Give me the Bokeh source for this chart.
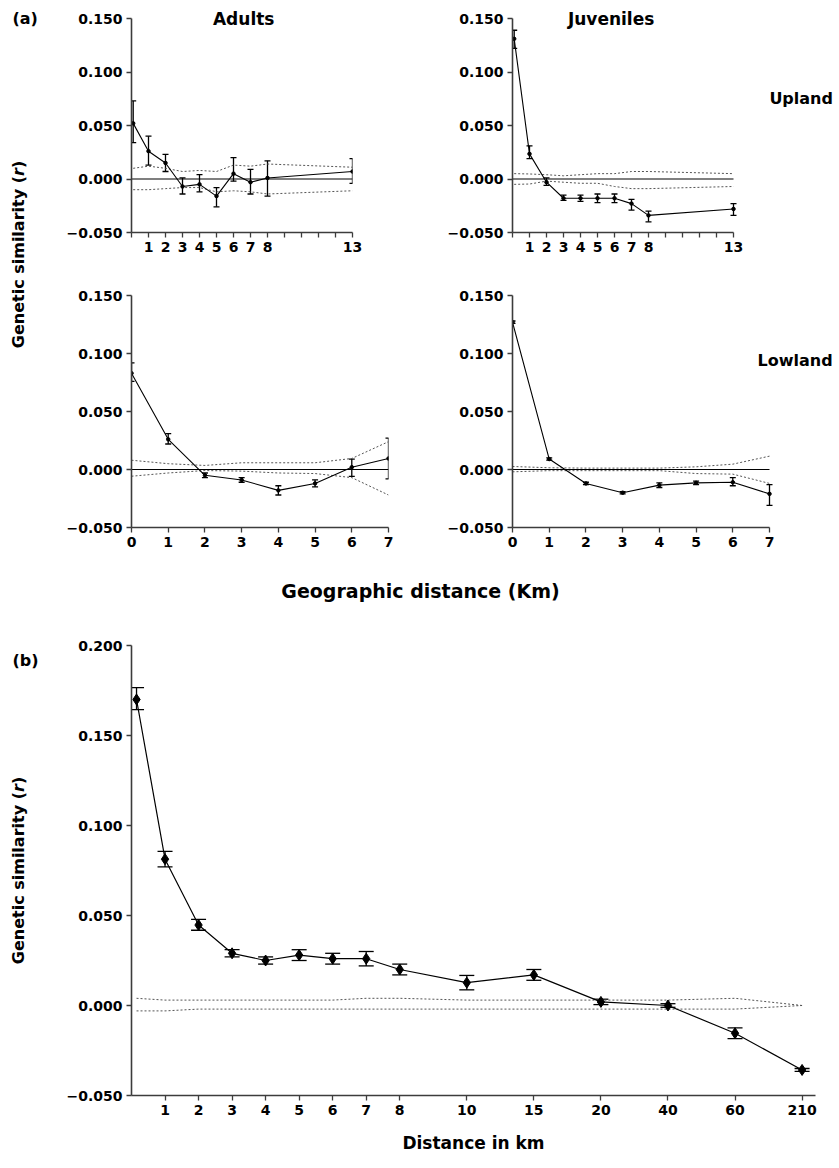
import math
from bokeh.plotting import figure
from bokeh.models import Range1d, FixedTicker, Whisker, TeeHead, ColumnDataSource, Label
from bokeh.core.properties import value
from bokeh.layouts import row, column
from bokeh.embed import file_html
from bokeh.resources import INLINE

# ---------------- data ----------------
# (a) Upland, distance classes (km)
up_x = [0.1, 1, 2, 3, 4, 5, 6, 7, 8, 13]
up_x_ticks = list(range(0, 14))
up_x_labels = ["", "1", "2", "3", "4", "5", "6", "7", "8", "", "", "", "", "13"]

ua_r = [0.052, 0.026, 0.015, -0.007, -0.005, -0.016, 0.005, -0.003, 0.001, 0.007]
ua_lo = [0.034, 0.013, 0.007, -0.014, -0.012, -0.026, -0.002, -0.014, -0.016, -0.004]
ua_hi = [0.073, 0.040, 0.023, 0.001, 0.004, -0.008, 0.020, 0.009, 0.017, 0.019]
ua_env_hi = [0.010, 0.012, 0.010, 0.007, 0.008, 0.007, 0.013, 0.012, 0.014, 0.011]
ua_env_lo = [-0.010, -0.010, -0.009, -0.008, -0.008, -0.012, -0.011, -0.012, -0.014, -0.011]

uj_r = [0.131, 0.0235, -0.003, -0.018, -0.018, -0.018, -0.018, -0.023, -0.034, -0.028]
uj_lo = [0.122, 0.019, -0.006, -0.020, -0.021, -0.022, -0.022, -0.029, -0.040, -0.034]
uj_hi = [0.139, 0.031, 0.001, -0.015, -0.015, -0.014, -0.014, -0.019, -0.030, -0.023]
uj_env_hi = [0.005, 0.0047, 0.004, 0.003, 0.004, 0.005, 0.005, 0.007, 0.007, 0.005]
uj_env_lo = [-0.005, -0.0047, -0.002, -0.003, -0.004, -0.004, -0.007, -0.009, -0.009, -0.007]

# (a) Lowland
lo_x = [0, 1, 2, 3, 4, 5, 6, 7]
lo_x_ticks = list(range(0, 8))
lo_x_labels = [str(v) for v in lo_x_ticks]

la_r = [0.083, 0.026, -0.005, -0.009, -0.018, -0.012, 0.002, 0.0095]
la_lo = [0.076, 0.022, -0.007, -0.011, -0.022, -0.015, -0.006, -0.008]
la_hi = [0.092, 0.031, -0.003, -0.007, -0.014, -0.009, 0.009, 0.027]
la_env_hi = [0.008, 0.005, 0.0035, 0.0058, 0.0058, 0.0058, 0.0095, 0.024]
la_env_lo = [-0.0058, -0.003, -0.0009, -0.0014, -0.003, -0.0035, -0.007, -0.022]

lj_r = [0.127, 0.009, -0.012, -0.020, -0.0135, -0.0115, -0.011, -0.021]
lj_lo = [0.126, 0.008, -0.013, -0.021, -0.0155, -0.013, -0.014, -0.031]
lj_hi = [0.128, 0.010, -0.011, -0.019, -0.0115, -0.010, -0.007, -0.013]
lj_env_hi = [0.0026, 0.0015, 0.0012, 0.0012, 0.0012, 0.0023, 0.0046, 0.0115]
lj_env_lo = [-0.002, -0.001, -0.001, -0.001, -0.001, -0.0035, -0.004, -0.012]

a_y_ticks = [-0.05, 0.0, 0.05, 0.1, 0.15]

# (b) all samples, distance classes in km
b_labels = ["1", "2", "3", "4", "5", "6", "7", "8", "10", "15", "20", "40", "60", "210"]
b_r = [0.170, 0.0813, 0.0447, 0.029, 0.025, 0.028, 0.026, 0.026, 0.020, 0.0127,
       0.017, 0.002, 0.000, -0.0154, -0.0358]
b_lo = [0.1644, 0.077, 0.0418, 0.027, 0.023, 0.025, 0.023, 0.022, 0.017, 0.0087,
        0.014, 0.0005, -0.001, -0.0184, -0.0366]
b_hi = [0.1766, 0.0856, 0.0478, 0.031, 0.027, 0.031, 0.029, 0.030, 0.023, 0.0167,
        0.020, 0.0035, 0.001, -0.0124, -0.0350]
b_env_hi = [0.004, 0.003, 0.003, 0.003, 0.003, 0.003, 0.003, 0.004, 0.004, 0.003,
            0.003, 0.003, 0.003, 0.004, 0.000]
b_env_lo = [-0.003, -0.003, -0.002, -0.002, -0.002, -0.002, -0.002, -0.002, -0.002, -0.002,
            -0.002, -0.002, -0.002, -0.002, 0.000]
b_y_ticks = [-0.05, 0.0, 0.05, 0.1, 0.15, 0.2]

# positions of the classes on panel (b)'s ordinal axis
b_tick_pos = list(range(1, 9)) + [10, 12, 14, 16, 18, 20]
b_x = [0.15] + b_tick_pos

# ---------------- styling helpers ----------------
FONT = "DejaVu Sans"
AX = "#3c3c3c"


def fmt(v):
    s = f"{abs(v):.3f}"
    return ("\u2212" + s) if v < -1e-12 else s


def panel(xr, yr, xb, yb, fw, fh, bl, br, bt, bb, xticks, xlabels, yticks):
    p = figure(title=None, x_range=Range1d(*xr), y_range=Range1d(*yr),
               frame_width=fw, frame_height=fh,
               min_border_left=bl, min_border_right=br,
               min_border_top=bt, min_border_bottom=bb,
               toolbar_location=None, output_backend="svg")
    p.grid.visible = False
    p.outline_line_color = None
    p.xaxis.ticker = FixedTicker(ticks=xticks)
    p.xaxis.major_label_overrides = {t: l for t, l in zip(xticks, xlabels)}
    p.xaxis.bounds = xb
    p.yaxis.ticker = FixedTicker(ticks=yticks)
    p.yaxis.major_label_overrides = {t: fmt(t) for t in yticks}
    p.yaxis.bounds = yb
    for ax in (p.xaxis[0], p.yaxis[0]):
        ax.axis_line_color = AX
        ax.axis_line_width = 1.6
        ax.major_tick_line_color = AX
        ax.major_tick_line_width = 1.3
        ax.major_tick_out = 5
        ax.major_tick_in = 0
        ax.minor_tick_line_color = None
        ax.major_label_text_font = FONT
        ax.major_label_text_font_style = "bold"
        ax.major_label_text_font_size = "14px"
        ax.major_label_text_color = "black"
        ax.major_label_standoff = 4
    return p


def series(p, x, r, lo, hi, ehi, elo, cap, msize, marker, lw=1.1):
    p.line(x, ehi, line_color="#555555", line_dash="2 2", line_width=1)
    p.line(x, elo, line_color="#555555", line_dash="2 2", line_width=1)
    p.line(x, r, line_color="black", line_width=lw)
    src = ColumnDataSource(dict(x=x, lo=lo, hi=hi))
    p.add_layout(Whisker(source=src, base="x", lower="lo", upper="hi",
                         line_color="black", line_width=1.3,
                         lower_head=TeeHead(size=cap, line_color="black", line_width=1.3),
                         upper_head=TeeHead(size=cap, line_color="black", line_width=1.3)))
    p.scatter(x, r, marker=marker, size=msize, color="black")


def zero(p, ticks):
    p.line([ticks[0], ticks[-1]], [0, 0], line_color="black", line_width=1.1)


def lab(p, x, y, text, size="16px", align="center", style="bold", angle=0.0, baseline="middle"):
    p.add_layout(Label(x=x, y=y, text=text, text_font=FONT, text_font_style=style,
                       text_font_size=size, text_align=align, text_baseline=baseline,
                       angle=angle, text_color="black"))


def gtext(p, x, y, text, size="16px", align="left", style="bold", angle=0.0):
    p.text(x=[x], y=[y], text=[text], angle=angle, text_font=value(FONT),
           text_font_style=style, text_font_size=size, text_align=align,
           text_baseline="middle", text_color="black")


def strip(w, h, y_top=0, y_bottom=None):
    # y_top / y_bottom: strip-local pixel rows that the strip's frame spans
    if y_bottom is None:
        y_bottom = h
    p = figure(title=None, x_range=Range1d(0, w), y_range=Range1d(y_bottom, y_top),
               width=w, height=h, min_border=0, x_axis_location=None, y_axis_location=None,
               toolbar_location=None, output_backend="svg")
    p.grid.visible = False
    p.outline_line_color = None
    return p


def ylabel_italic(p, cx, cy, px=16):
    # "Genetic similarity (" + italic "r" + ")" reading bottom-to-top
    w1, w2, w3 = 10.763 * px, 0.493 * px, 0.457 * px
    y0 = cy + (w1 + w2 + w3) / 2
    size = f"{px}px"
    gtext(p, cx, y0, "Genetic similarity (", size=size, angle=math.pi / 2)
    gtext(p, cx, y0 - w1, "r", size=size, style="bold italic", angle=math.pi / 2)
    gtext(p, cx, y0 - w1 - w2, ")", size=size, angle=math.pi / 2)


# ---------------- panels (a) ----------------
A_YB = (-0.05, 0.15)
UP_PPU_Y = 1070.0          # px per unit of r, upper row
UP_FH = 228                # frame reaches a little above 0.150 for the titles
up_y_end = A_YB[0] + UP_FH / UP_PPU_Y
UP_PPU_X = 17.0

ul = panel((0, 13), (A_YB[0], up_y_end), (0, 13), A_YB, 221, UP_FH, 93, 10, 4, 32,
           up_x_ticks, up_x_labels, a_y_ticks)
zero(ul, up_x_ticks)
series(ul, up_x, ua_r, ua_lo, ua_hi, ua_env_hi, ua_env_lo, 6, 3.5, "circle")
lab(ul, 6.6, 0.150, "Adults", size="17px")

UR_FW = 323
ur = panel((0, UR_FW / UP_PPU_X), (A_YB[0], up_y_end), (0, 13), A_YB, UR_FW, UP_FH, 150, 2, 4, 32,
           up_x_ticks, up_x_labels, a_y_ticks)
zero(ur, up_x_ticks)
series(ur, up_x, uj_r, uj_lo, uj_hi, uj_env_hi, uj_env_lo, 6, 3.5, "circle")
lab(ur, 5.8, 0.150, "Juveniles", size="17px")
lab(ur, 18.85, 0.075, "Upland", size="16px", align="right")

LO_PPU_X = 257 / 7.0
ll = panel((0, 7), A_YB, (0, 7), A_YB, 257, 232, 93, 10, 31, 30,
           lo_x_ticks, lo_x_labels, a_y_ticks)
zero(ll, lo_x_ticks)
series(ll, lo_x, la_r, la_lo, la_hi, la_env_hi, la_env_lo, 6, 3.5, "circle")

LR_FW = 323
lr = panel((0, LR_FW / LO_PPU_X), A_YB, (0, 7), A_YB, LR_FW, 232, 114, 2, 31, 30,
           lo_x_ticks, lo_x_labels, a_y_ticks)
zero(lr, lo_x_ticks)
series(lr, lo_x, lj_r, lj_lo, lj_hi, lj_env_hi, lj_env_lo, 6, 3.5, "circle")
lab(lr, 8.72, 0.094, "Lowland", size="16px", align="right")

strip_a = strip(38, 557)
ylabel_italic(strip_a, 18, 254)
lab(strip_a, 12, 18, "(a)", size="16px", align="left")

strip_x = strip(837, 58)
lab(strip_x, 420, 33, "Geographic distance (Km)", size="19px")

# ---------------- panel (b) ----------------
B_BT, B_FH, B_BB = 30, 450, 60
pb = panel((0, 20.4), (-0.05, 0.2), (0, 20.4), (-0.05, 0.2), 684, B_FH, 93, 22, B_BT, B_BB,
           b_tick_pos, b_labels, b_y_ticks)
series(pb, b_x, b_r, b_lo, b_hi, b_env_hi, b_env_lo, 15, 11, "diamond", lw=1.2)
pb.xaxis.axis_label = "Distance in km"
pb.xaxis.axis_label_text_font = FONT
pb.xaxis.axis_label_text_font_style = "bold"
pb.xaxis.axis_label_text_font_size = "17px"
pb.xaxis.axis_label_text_color = "black"
pb.xaxis.axis_label_standoff = 15

# the strip's frame is aligned with panel (b)'s frame by the row layout
strip_b = strip(38, B_BT + B_FH + B_BB, y_top=B_BT, y_bottom=B_BT + B_FH)
ylabel_italic(strip_b, 18, 255)
lab(strip_b, 12, 45, "(b)", size="16px", align="left")

layout = column(
    row(strip_a, column(row(ul, ur), row(ll, lr))),
    strip_x,
    row(strip_b, pb),
)

open("out.html", "w").write(file_html(layout, INLINE))
